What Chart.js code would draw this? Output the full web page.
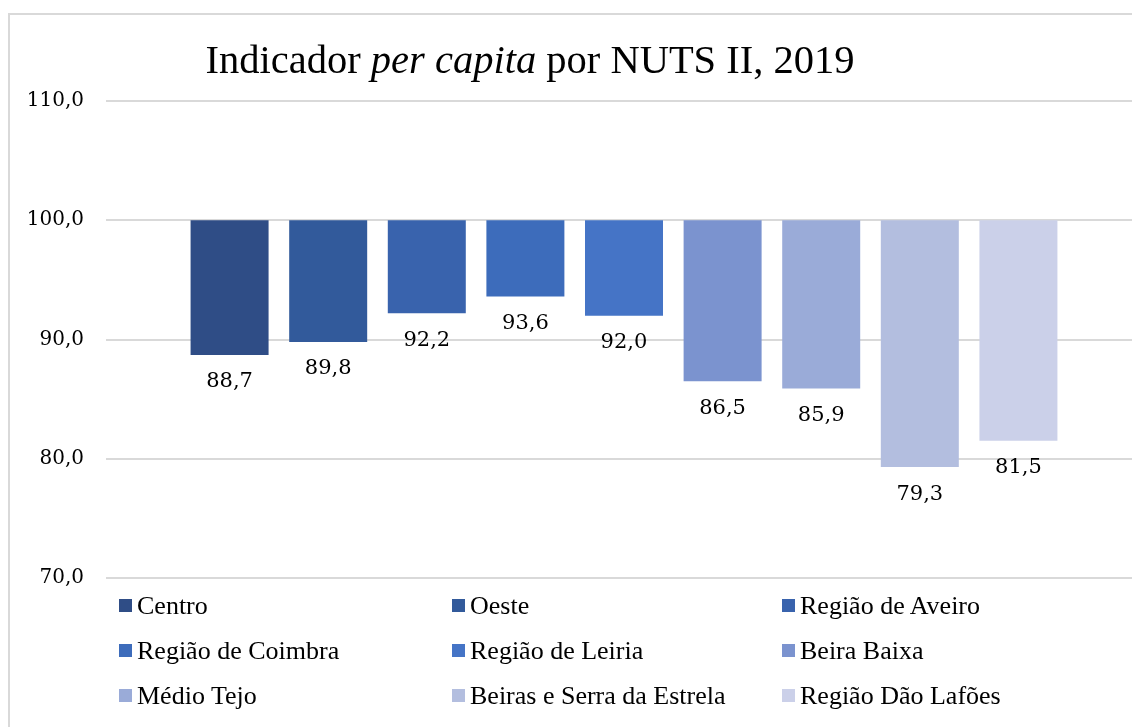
<!DOCTYPE html>
<html>
<head>
<meta charset="utf-8">
<script src="https://cdn.jsdelivr.net/npm/chart.js@4.4.1/dist/chart.umd.min.js"></script>
<style>
  html, body { margin: 0; padding: 0; background: #fff; overflow: hidden; width: 1132px; height: 727px; }
  #frame { position: absolute; left: 8px; top: 13px; width: 2000px; height: 2000px;
           border-left: 2px solid #d9d9d9; border-top: 2px solid #d9d9d9; }
  #c { position: absolute; left: 0; top: 0; }
  #legend { position: absolute; left: 119px; top: 583px; display: grid;
            grid-template-columns: 333px 330px 330px; grid-auto-rows: 45px;
            font-family: "Liberation Serif", serif; font-size: 26px; color: #000; }
  .item { display: flex; align-items: center; white-space: nowrap; }
  .sw { width: 13px; height: 13px; margin-right: 5px; flex: none; }
</style>
</head>
<body>
<div id="frame"></div>
<canvas id="c" width="1150" height="727"></canvas>
<div id="legend"></div>
<script>
const categories = ['Centro', 'Oeste', 'Região de Aveiro', 'Região de Coimbra', 'Região de Leiria',
                    'Beira Baixa', 'Médio Tejo', 'Beiras e Serra da Estrela', 'Região Dão Lafões'];
const values = [88.7, 89.8, 92.2, 93.6, 92.0, 86.5, 85.9, 79.3, 81.5];
const baseValue = 100;
const yTicks = [70, 80, 90, 100, 110];
const colors = ['#2f4d86', '#325a9b', '#3963ad', '#3d6cbb', '#4574c6',
                '#7b93cf', '#9aabd8', '#b3bedf', '#cbd0e9'];
const titleParts = [
  { text: 'Indicador ', italic: false },
  { text: 'per capita', italic: true },
  { text: ' por NUTS II, 2019', italic: false }
];

const fmt = v => v.toFixed(1).replace('.', ',');

const titlePlugin = {
  id: 'mixedTitle',
  afterDraw(chart) {
    const ctx = chart.ctx;
    ctx.save();
    const size = 40.5;
    const fontOf = p => (p.italic ? 'italic ' : '') + size + 'px "Liberation Serif"';
    let total = 0;
    titleParts.forEach(p => { ctx.font = fontOf(p); total += ctx.measureText(p.text).width; });
    let x = 530 - total / 2;
    ctx.fillStyle = '#000';
    ctx.textBaseline = 'alphabetic';
    ctx.textAlign = 'left';
    titleParts.forEach(p => {
      ctx.font = fontOf(p);
      ctx.fillText(p.text, x, 73);
      x += ctx.measureText(p.text).width;
    });
    ctx.restore();
  }
};

const labelPlugin = {
  id: 'barLabels',
  afterDatasetsDraw(chart) {
    const ctx = chart.ctx;
    ctx.save();
    ctx.font = '21px "DejaVu Serif"';
    ctx.fillStyle = '#000';
    ctx.textAlign = 'center';
    ctx.textBaseline = 'middle';
    chart.data.datasets.forEach((ds, i) => {
      const el = chart.getDatasetMeta(i).data[0];
      const p = el.getProps(['x', 'y', 'base'], true);
      const bottom = Math.max(p.y, p.base);
      ctx.fillText(fmt(values[i]), p.x, bottom + 27);
    });
    ctx.restore();
  }
};

const datasets = categories.map((name, i) => ({
  label: name,
  data: [[baseValue, values[i]]],
  backgroundColor: colors[i],
  borderWidth: 0,
  categoryPercentage: 0.8566,
  barPercentage: 0.791
}));

new Chart(document.getElementById('c'), {
  type: 'bar',
  data: { labels: [''], datasets },
  options: {
    responsive: false,
    animation: false,
    devicePixelRatio: 1,
    layout: { padding: { top: 101, bottom: 149, left: 0, right: 8 } },
    plugins: { legend: { display: false }, title: { display: false }, tooltip: { enabled: false } },
    scales: {
      x: { display: false },
      y: {
        min: 70, max: 110,
        afterFit: s => { s.width = 106; },
        afterBuildTicks: s => { s.ticks = yTicks.map(v => ({ value: v })); },
        grid: { color: '#d9d9d9', lineWidth: 2, drawTicks: false },
        border: { display: false },
        ticks: { padding: 22, color: '#000', font: { family: 'DejaVu Serif', size: 20 },
                 callback: v => fmt(v) }
      }
    }
  },
  plugins: [titlePlugin, labelPlugin]
});

const legend = document.getElementById('legend');
categories.forEach((name, i) => {
  const item = document.createElement('div');
  item.className = 'item';
  const sw = document.createElement('span');
  sw.className = 'sw';
  sw.style.background = colors[i];
  const t = document.createElement('span');
  t.textContent = name;
  item.appendChild(sw);
  item.appendChild(t);
  legend.appendChild(item);
});
</script>
</body>
</html>
